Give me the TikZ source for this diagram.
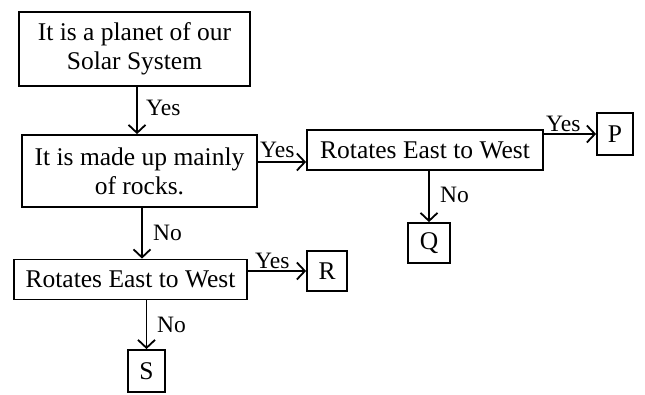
\documentclass[tikz,border=0pt]{standalone}
\usepackage{fontspec}
\setmainfont{Liberation Serif}
\usetikzlibrary{arrows.meta}
\begin{document}
\begin{tikzpicture}[x=1pt,y=-1pt,
  box/.style={draw, line width=1.8pt, inner sep=0pt, align=center, font=\fontsize{25.5}{29}\selectfont},
  lbl/.style={font=\fontsize{23.5}{26}\selectfont, inner sep=0pt, anchor=base west},
  arr/.style={line width=1.8pt, -{Straight Barb[length=8pt,width=17pt]}}]
\useasboundingbox[fill=white] (0,0) rectangle (645,394);
\node[box, minimum width=231pt, minimum height=74pt] (b1) at (134.5,49) {It is a planet of our\\Solar System};
\node[box, minimum width=235pt, minimum height=72pt] (b2) at (139.5,171) {It is made up mainly\\of rocks.};
\node[box, minimum width=236pt, minimum height=40pt] (b3) at (425,150) {Rotates East to West};
\node[box, minimum width=36pt, minimum height=42pt] (P) at (615,134) {P};
\node[box, minimum width=42pt, minimum height=40pt] (Q) at (429,243) {Q};
\node[box, minimum width=233pt, minimum height=40pt] (b4) at (130.5,279.5) {Rotates East to West};
\node[box, minimum width=40pt, minimum height=40pt] (R) at (327,271) {R};
\node[box, minimum width=37pt, minimum height=42pt] (S) at (146.5,371) {S};
% connectors
\draw[arr] ([xshift=2.5pt]b1.south) -- ([xshift=2.5pt]b1.south |- b2.north);
\draw[arr] ([yshift=9pt]b2.east) -- ([yshift=9pt]b2.east -| b3.west);
\draw[arr] (b3.east |- P.west) -- (P.west);
\draw[arr] (Q.north |- b3.south) -- (Q.north);
\draw[arr] ([xshift=2.5pt]b2.south) -- ([xshift=2.5pt]b2.south |- b4.north);
\draw[arr] (b4.east |- R.west) -- (R.west);
\draw[arr] (S.north |- b4.south) -- (S.north);
% labels
\node[lbl] (y1) at (146,115) {Yes};
\node[lbl] (y2) at (260,157) {Yes};
\node[lbl] (y3) at (546,131) {Yes};
\node[lbl] (n1) at (440,202) {No};
\node[lbl] (n2) at (153,240) {No};
\node[lbl] (y4) at (255,268) {Yes};
\node[lbl] (n3) at (157,332) {No};
\end{tikzpicture}
\end{document}
